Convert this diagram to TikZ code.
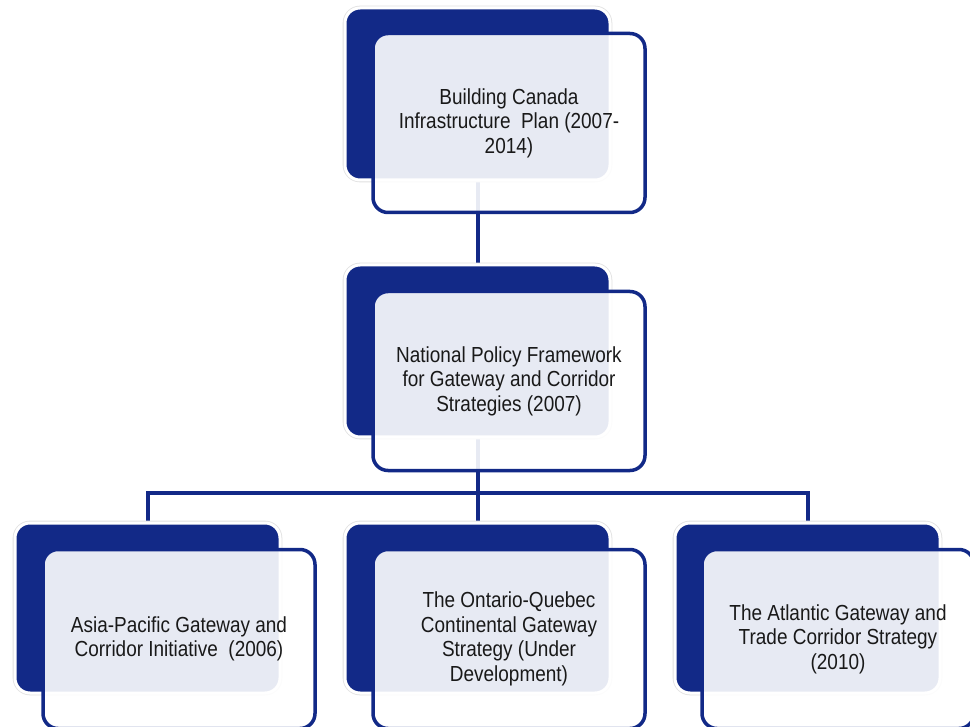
\documentclass[tikz,border=0pt]{standalone}
\usepackage{fontspec}
\setmainfont{Liberation Sans}[FakeStretch=0.87]
\definecolor{navy}{RGB}{18,41,135}
\pgfdeclarelayer{bg}
\pgfsetlayers{bg,main}
\begin{document}
\begin{tikzpicture}[x=1pt,y=-1pt,
  darkbox/.style={rectangle, rounded corners=15pt, fill=navy, draw=white, line width=3pt,
    preaction={draw=black!12, line width=4.6pt}, minimum width=265pt, minimum height=172pt, inner sep=0pt},
  frontbox/.style={rectangle, rounded corners=15pt, fill=white, fill opacity=0.9, text opacity=1,
    draw=navy, draw opacity=1, line width=3.5pt, minimum width=272pt, minimum height=179pt,
    inner sep=0pt, align=center, font=\fontsize{21.8}{24.5}\selectfont, text=black!90},
  link/.style={draw=navy, line width=4pt}]
\useasboundingbox (0,0) rectangle (970,727);
% units
\node[darkbox] (topdark) at (477.5,94) {};
\node[frontbox] (topfront) at (509,123) {Building Canada\\Infrastructure~ Plan (2007-\\2014)};
\node[darkbox] (middark) at (477.5,351) {};
\node[frontbox] (midfront) at (509,381) {National Policy Framework\\for Gateway and Corridor\\Strategies (2007)};
\node[darkbox, minimum height=170pt] (leftdark) at (147.5,608) {};
\node[frontbox] (leftfront) at (179,639) {Asia-Pacific Gateway and\\Corridor Initiative~ (2006)};
\node[darkbox, minimum height=170pt] (centerdark) at (477.5,608) {};
\node[frontbox] (centerfront) at (509,639) {The Ontario-Quebec\\Continental Gateway\\Strategy (Under\\Development)};
\node[darkbox, minimum height=170pt] (rightdark) at (807.5,608) {};
\node[frontbox] (rightfront) at (838,639) {The Atlantic Gateway and\\Trade Corridor Strategy\\(2010)};
\coordinate (bus) at (477.5,493);
\begin{pgfonlayer}{bg}
\draw[link] (topdark.south) -- (middark.north);
\draw[link] (middark.south) -- (bus);
\draw[link] (bus) -- (centerdark.north);
\draw[link] (leftdark.north) |- (bus) -| (rightdark.north);
\end{pgfonlayer}
\end{tikzpicture}
\end{document}
